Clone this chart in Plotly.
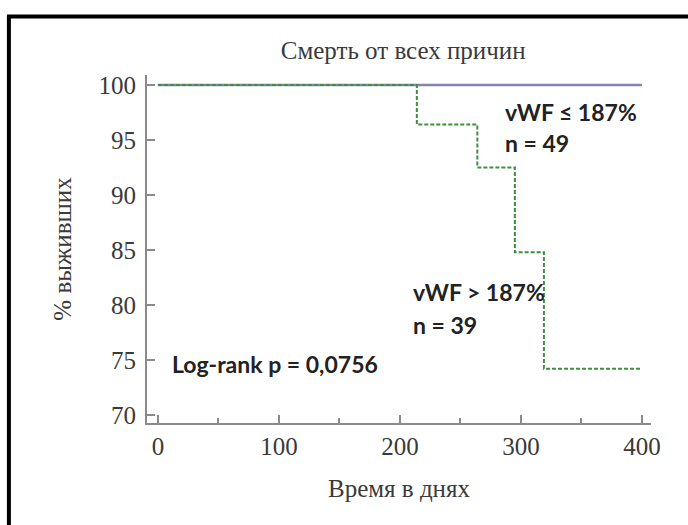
import plotly.graph_objects as go

# Kaplan-Meier survival curves, all-cause mortality by vWF level
days_low = [0, 400]
surv_low = [100, 100]

days_high = [0, 214, 264, 295, 319, 400]
surv_high = [100, 96.4, 92.5, 84.8, 74.2, 74.2]

x_ticks = [0, 100, 200, 300, 400]
y_ticks = [70, 75, 80, 85, 90, 95, 100]

serif = "Liberation Serif"
text_grey = "#3a3a3a"
bold_font = dict(family="Lato", size=23, color="#222222")

fig = go.Figure()
fig.add_trace(go.Scatter(
    x=days_low, y=surv_low, mode="lines", line_shape="hv",
    line=dict(color="#8482b0", width=2.5), showlegend=False,
))
fig.add_trace(go.Scatter(
    x=days_high, y=surv_high, mode="lines", line_shape="hv",
    line=dict(color="#3f8f3f", width=2, dash="4px,2px"), showlegend=False,
))

fig.add_annotation(x=285, y=97.5, text="<b>vWF ≤ 187%</b>", showarrow=False,
                   xanchor="left", yanchor="middle", font=bold_font)
fig.add_annotation(x=285, y=94.7, text="<b>n = 49</b>", showarrow=False,
                   xanchor="left", yanchor="middle", font=bold_font)
fig.add_annotation(x=209, y=81.2, text="<b>vWF > 187%</b>", showarrow=False,
                   xanchor="left", yanchor="middle", font=bold_font)
fig.add_annotation(x=209, y=78.2, text="<b>n = 39</b>", showarrow=False,
                   xanchor="left", yanchor="middle", font=bold_font)
fig.add_annotation(x=10, y=74.6, text="<b>Log-rank p = 0,0756</b>", showarrow=False,
                   xanchor="left", yanchor="middle", font=bold_font)

# outer black frame
fig.add_shape(type="rect", xref="paper", yref="paper",
              x0=-0.274, x1=1.2, y0=-0.5, y1=1.168,
              line=dict(color="black", width=4), fillcolor="rgba(0,0,0,0)",
              layer="below")

axis_common = dict(
    showgrid=False, zeroline=False, showline=True,
    linecolor="#8a8a8a", linewidth=2,
    ticks="inside", ticklen=8, tickwidth=1.5, tickcolor="#8a8a8a",
    tickfont=dict(family=serif, size=25, color=text_grey),
)

fig.update_layout(
    width=688, height=525,
    margin=dict(l=147, r=37, t=75, b=102),
    paper_bgcolor="white", plot_bgcolor="white",
    title=dict(text="Смерть от всех причин", x=0.586, xanchor="center",
               y=1 - 50 / 525, yanchor="middle", yref="container",
               font=dict(family=serif, size=25, color=text_grey)),
    xaxis=dict(
        **axis_common, range=[-9, 407.5], tickvals=x_ticks,
        minor=dict(ticks="inside", ticklen=5, tickcolor="#8a8a8a",
                   tickvals=[50, 150, 250, 350]),
        title=dict(text="Время в днях", standoff=20,
                   font=dict(family=serif, size=25, color=text_grey)),
    ),
    yaxis=dict(
        **axis_common, range=[69.27, 100.9], tickvals=y_ticks,
        ticklabelstandoff=4,
        title=dict(text="% выживших", standoff=20,
                   font=dict(family=serif, size=25, color=text_grey)),
    ),
)

fig.write_html("out.html")
